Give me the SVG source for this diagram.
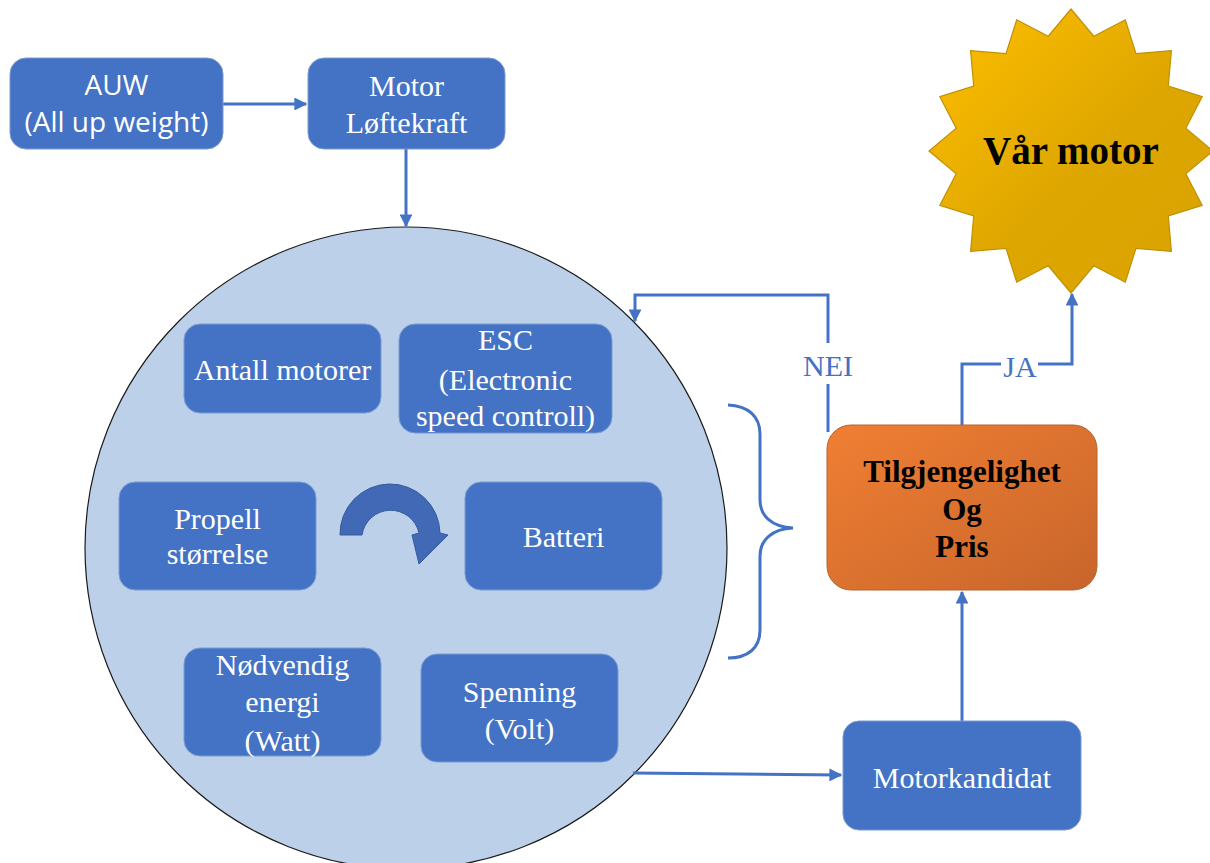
<svg xmlns="http://www.w3.org/2000/svg" width="1210" height="863" viewBox="0 0 1210 863">
  <defs>
    <style>
      .box { fill: #4472C4; stroke: #7A9BD3; stroke-width: 1; }
      .serif { font-family: "Liberation Serif", "DejaVu Serif", serif; }
      .sans { font-family: "Open Sans", "Liberation Sans", sans-serif; }
      .wt { fill: #FFFFFF; font-size: 30px; text-anchor: middle; }
      .sans.wt { font-size: 28px; }
      .conn { fill: none; stroke: #4472C4; stroke-width: 3; }
      .lbl { fill: #4472C4; font-size: 30px; text-anchor: middle; }
      .bold { fill: #000000; font-weight: bold; text-anchor: middle; }
    </style>
    <marker id="arrow" viewBox="0 0 10 10" refX="9" refY="5" markerWidth="4.3" markerHeight="4.3" orient="auto">
      <path d="M0,0 L10,5 L0,10 z" fill="#4472C4"/>
    </marker>
    <linearGradient id="gold" x1="0" y1="0" x2="1" y2="1">
      <stop offset="0" stop-color="#FFC000"/>
      <stop offset="0.55" stop-color="#DEA600"/>
      <stop offset="1" stop-color="#D9A300"/>
    </linearGradient>
    <linearGradient id="orange" x1="0" y1="0" x2="1" y2="1">
      <stop offset="0" stop-color="#F07F33"/>
      <stop offset="1" stop-color="#C8652B"/>
    </linearGradient>
  </defs>

  <!-- big circle grouping the motor parameters -->
  <g id="parameters">
    <circle cx="406" cy="548" r="321" fill="#BCD0E9" stroke="#1A1A1A" stroke-width="1.2"/>
  </g>

  <!-- connectors -->
  <g id="connectors">
    <line class="conn" x1="223" y1="104" x2="306" y2="104" marker-end="url(#arrow)"/>
    <line class="conn" x1="406" y1="149" x2="406" y2="226" marker-end="url(#arrow)"/>
    <polyline class="conn" points="828,432 828,384"/>
    <polyline class="conn" points="828,343 828,295 635,295 635,321" marker-end="url(#arrow)"/>
    <polyline class="conn" points="962,425 962,364 1001,364"/>
    <polyline class="conn" points="1038,364 1072,364 1072,294" marker-end="url(#arrow)"/>
    <line class="conn" x1="962" y1="721" x2="962" y2="592" marker-end="url(#arrow)"/>
    <line class="conn" x1="633" y1="773" x2="841" y2="775" marker-end="url(#arrow)"/>
    <text class="serif lbl" x="828" y="376">NEI</text>
    <text class="serif lbl" x="1020" y="377">JA</text>
    <!-- brace collecting the parameters -->
    <path class="conn" d="M728,405 C748,406 760,416 760,434 L760,500 C760,516 772,527 793,528 C772,529 760,540 760,556 L760,630 C760,648 748,658 728,658"/>
  </g>

  <g id="auw">
    <rect class="box" x="10" y="58" width="213" height="91" rx="16"/>
    <text class="sans wt" x="116.5" y="95">AUW</text>
    <text class="sans wt" x="116.5" y="132">(All up weight)</text>
  </g>

  <g id="motor-loftekraft">
    <rect class="box" x="308" y="58" width="197" height="91" rx="16"/>
    <text class="serif wt" x="406.5" y="96">Motor</text>
    <text class="serif wt" x="406.5" y="133">Løftekraft</text>
  </g>

  <g id="antall-motorer">
    <rect class="box" x="184" y="324" width="197" height="89" rx="16"/>
    <text class="serif wt" x="282.5" y="380">Antall motorer</text>
  </g>

  <g id="esc">
    <rect class="box" x="399" y="324" width="213" height="109" rx="16"/>
    <text class="serif wt" x="505.5" y="350">ESC</text>
    <text class="serif wt" x="505.5" y="390">(Electronic</text>
    <text class="serif wt" x="505.5" y="426">speed controll)</text>
  </g>

  <g id="propell">
    <rect class="box" x="119" y="482" width="197" height="108" rx="16"/>
    <text class="serif wt" x="217.5" y="529">Propell</text>
    <text class="serif wt" x="217.5" y="564">størrelse</text>
  </g>

  <g id="cycle-arrow">
    <path d="M340,535 A50,50 0 0 1 440,533 L448,535 L419,564 L412,535 L419,533 A29,29 0 0 0 362,535 Z" fill="#4169B5" stroke="#355A9E" stroke-width="1"/>
  </g>

  <g id="batteri">
    <rect class="box" x="465" y="482" width="197" height="108" rx="16"/>
    <text class="serif wt" x="563.5" y="547">Batteri</text>
  </g>

  <g id="energi">
    <rect class="box" x="184" y="648" width="197" height="108" rx="16"/>
    <text class="serif wt" x="282.5" y="675">Nødvendig</text>
    <text class="serif wt" x="282.5" y="712">energi</text>
    <text class="serif wt" x="282.5" y="751">(Watt)</text>
  </g>

  <g id="spenning">
    <rect class="box" x="421" y="654" width="197" height="108" rx="16"/>
    <text class="serif wt" x="519.5" y="702">Spenning</text>
    <text class="serif wt" x="519.5" y="739">(Volt)</text>
  </g>

  <g id="tilgjengelighet">
    <rect x="827" y="425" width="270" height="165" rx="24" fill="url(#orange)" stroke="#B5642E" stroke-width="1"/>
    <text class="serif bold" x="962" y="482" font-size="31">Tilgjengelighet</text>
    <text class="serif bold" x="962" y="520" font-size="31">Og</text>
    <text class="serif bold" x="962" y="557" font-size="31">Pris</text>
  </g>

  <g id="motorkandidat">
    <rect class="box" x="843" y="721" width="238" height="109" rx="16"/>
    <text class="serif wt" x="962" y="788">Motorkandidat</text>
  </g>

  <g id="var-motor">
    <polygon fill="url(#gold)" stroke="#BF9000" stroke-width="1.2" points="1071,9 1093.8,36.2 1125.3,19.8 1136,53.7 1171.4,50.6 1168.3,86 1202.2,96.7 1185.8,128.2 1213,151 1185.8,173.8 1202.2,205.3 1168.3,216 1171.4,251.4 1136,248.3 1125.3,282.2 1093.8,265.8 1071,293 1048.2,265.8 1016.7,282.2 1006,248.3 970.6,251.4 973.7,216 939.8,205.3 956.2,173.8 929,151 956.2,128.2 939.8,96.7 973.7,86 970.6,50.6 1006,53.7 1016.7,19.8 1048.2,36.2"/>
    <text class="serif bold" x="1071" y="164" font-size="39">Vår motor</text>
  </g>
</svg>
